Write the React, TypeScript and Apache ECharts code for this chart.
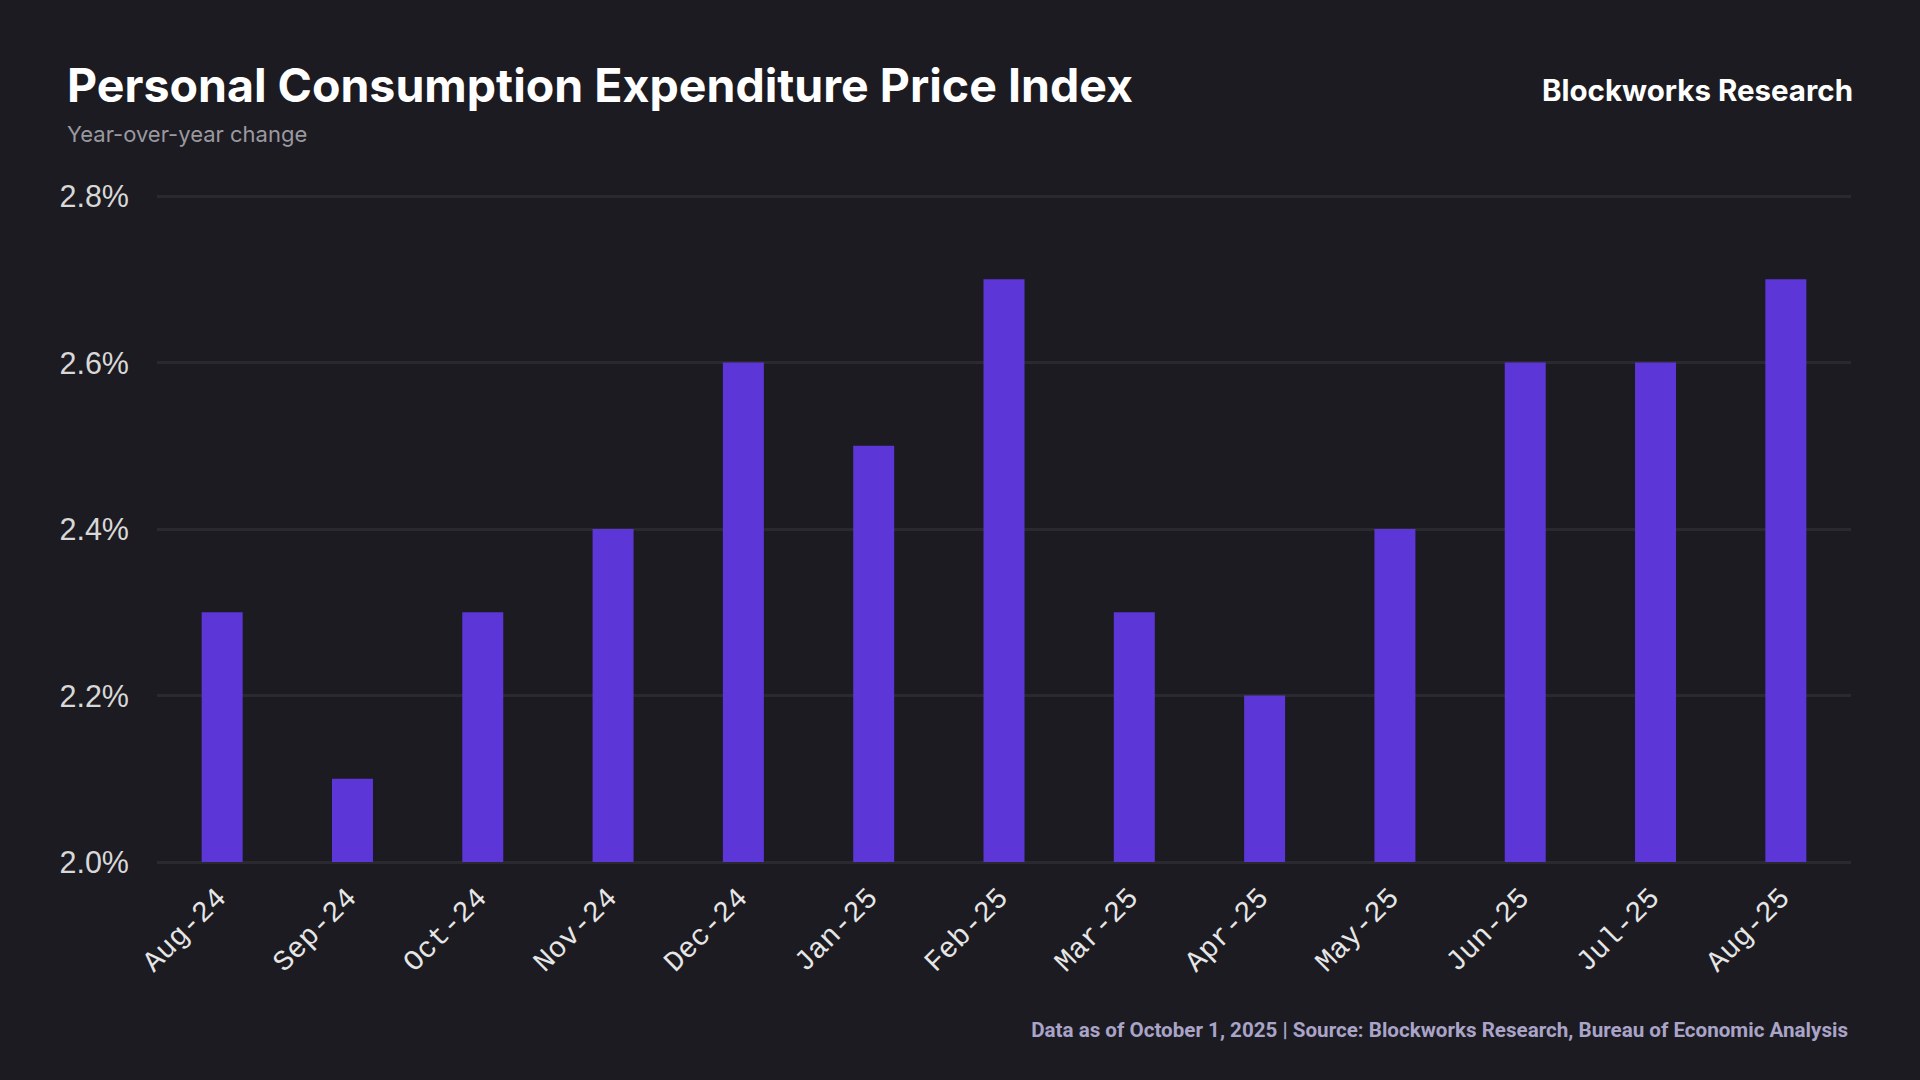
import React, { useEffect, useRef } from "react";
import * as echarts from "echarts";

const categories = [
  "Aug-24", "Sep-24", "Oct-24", "Nov-24", "Dec-24", "Jan-25", "Feb-25",
  "Mar-25", "Apr-25", "May-25", "Jun-25", "Jul-25", "Aug-25",
];
const pceYoY = [2.3, 2.1, 2.3, 2.4, 2.6, 2.5, 2.7, 2.3, 2.2, 2.4, 2.6, 2.6, 2.7];

const TITLE = "Personal Consumption Expenditure Price Index";
const SUBTITLE = "Year-over-year change";
const BRAND = "Blockworks Research";
const FOOTER = "Data as of October 1, 2025 | Source: Blockworks Research, Bureau of Economic Analysis";

export default function App() {
  const ref = useRef<HTMLDivElement>(null);
  useEffect(() => {
    document.body.style.margin = "0";
    const chart = echarts.init(ref.current!, null, { renderer: "svg" });
    chart.setOption({
      animation: false,
      backgroundColor: "#1c1b21",
      title: [
        {
          text: TITLE,
          left: 62,
          top: 56,
          textStyle: { color: "#ffffff", fontSize: 46.5, fontWeight: "bold", fontFamily: "Inter" },
        },
        {
          text: SUBTITLE,
          left: 62,
          top: 118,
          textStyle: { color: "#9a99a0", fontSize: 22, fontWeight: "normal", fontFamily: "Inter" },
        },
        {
          text: BRAND,
          right: 62,
          top: 70,
          textStyle: { color: "#ffffff", fontSize: 29.5, fontWeight: "bold", fontFamily: "Inter" },
        },
        {
          text: FOOTER,
          right: 67,
          top: 1014,
          textStyle: { color: "#a9a4c8", fontSize: 20.6, fontWeight: "bold", fontFamily: "Roboto" },
        },
      ],
      grid: { left: 157, right: 69, top: 196, bottom: 218, containLabel: false },
      xAxis: {
        type: "category",
        data: categories,
        axisLine: { show: false },
        axisTick: { show: false },
        axisLabel: {
          interval: 0,
          rotate: 45,
          margin: 32,
          color: "#e6e6e6",
          fontSize: 29,
          fontFamily: "Liberation Mono",
        },
      },
      yAxis: {
        type: "value",
        min: 2.0,
        max: 2.8,
        interval: 0.2,
        axisLine: { show: false },
        axisTick: { show: false },
        axisLabel: {
          margin: 28,
          color: "#d8d8d8",
          fontSize: 30.5,
          fontFamily: "Liberation Sans",
          formatter: (v: number) => v.toFixed(1) + "%",
        },
        splitLine: { lineStyle: { color: "#2a292f", width: 3 } },
      },
      series: [
        {
          type: "bar",
          data: pceYoY,
          barWidth: 41,
          itemStyle: { color: "#5c36d6" },
        },
      ],
    });
    return () => chart.dispose();
  }, []);
  return <div ref={ref} style={{ position: "fixed", left: 0, top: 0, width: 1920, height: 1080 }} />;
}
